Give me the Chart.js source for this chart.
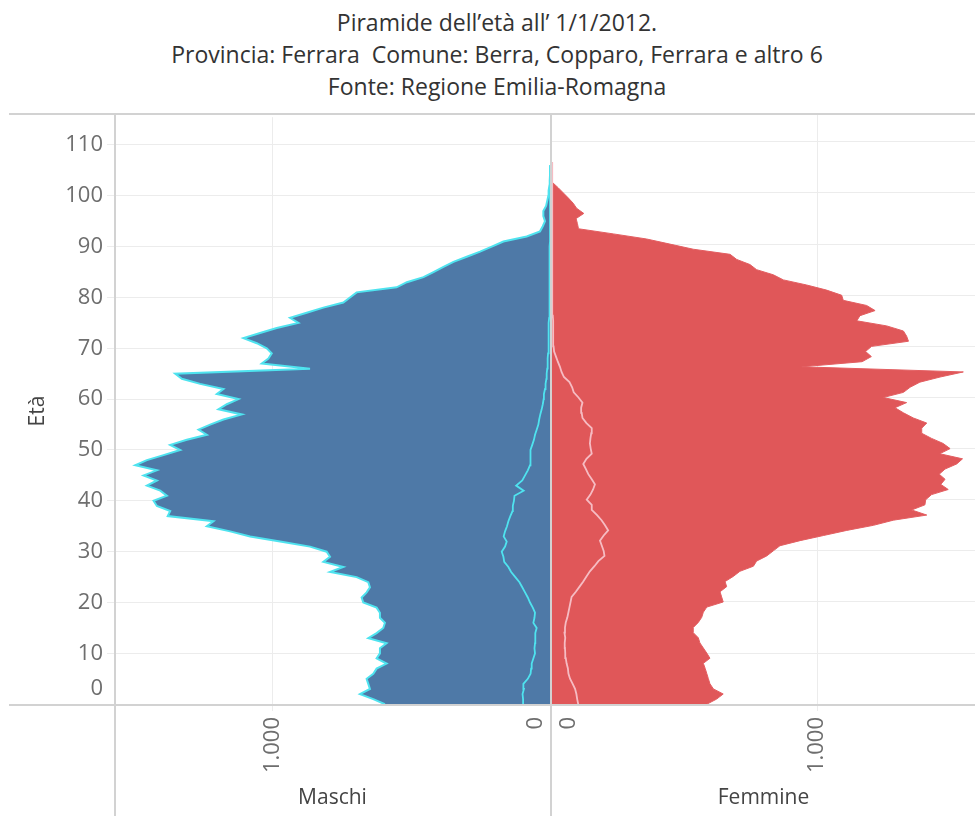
<!DOCTYPE html>
<html lang="it">

<head>
    <meta charset="UTF-8">
    <title>Piramide dell'età</title>
    <script src="https://cdn.jsdelivr.net/npm/chart.js"></script>
    <style>
        body {
            margin: 0;
            background: #fff;
            font-family: 'Open Sans', sans-serif;
        }

        .pagina {
            position: relative;
            width: 975px;
            height: 816px;
            overflow: hidden;
        }

        .titolo {
            position: absolute;
            left: 0;
            top: 6px;
            width: 994px;
            text-align: center;
            color: #333;
            font-size: 23px;
            line-height: 32px;
            white-space: pre;
        }

        .pannello {
            position: absolute;
            top: 100px;
            height: 716px;
        }

        #sx {
            left: 0;
            width: 566px;
        }

        #dx {
            left: 536px;
            width: 439px;
        }

        .linea {
            position: absolute;
            background: #d2d2d2;
        }
    </style>
</head>

<body>
    <div class="pagina">
        <div class="titolo">Piramide dell’età all’ 1/1/2012.
Provincia: Ferrara  Comune: Berra, Copparo, Ferrara e altro 6
Fonte: Regione Emilia-Romagna</div>

        <div class="pannello" id="sx"><canvas id="graficoMaschi"></canvas></div>
        <div class="pannello" id="dx"><canvas id="graficoFemmine"></canvas></div>

        <!-- bordi dei pannelli -->
        <div class="linea" style="left:9px; top:113px; width:966px; height:2px;"></div>
        <div class="linea" style="left:9px; top:704px; width:966px; height:2px;"></div>
        <div class="linea" style="left:114px; top:113px; width:2px; height:703px;"></div>
        <div class="linea" style="left:550px; top:113px; width:2px; height:703px;"></div>
    </div>

    <script>
        // età (asse verticale)
        const eta = [0, 1, 2, 3, 4, 5, 6, 7, 8, 9, 10, 11, 12, 13, 14, 15, 16, 17, 18, 19,
            20, 21, 22, 23, 24, 25, 26, 27, 28, 29, 30, 31, 32, 33, 34, 35, 36, 37, 38, 39,
            40, 41, 42, 43, 44, 45, 46, 47, 48, 49, 50, 51, 52, 53, 54, 55, 56, 57, 58, 59,
            60, 61, 62, 63, 64, 65, 66, 67, 68, 69, 70, 71, 72, 73, 74, 75, 76, 77, 78, 79,
            80, 81, 82, 83, 84, 85, 86, 87, 88, 89, 90, 91, 92, 93, 94, 95, 96, 97, 98, 99,
            100, 101, 102, 103, 104, 105, 106];

        // residenti totali per età
        const maschi = [595, 637, 685, 649, 655, 661, 637, 625, 589, 625, 613, 613, 589, 655, 625, 601, 595, 613, 613, 625,
            673, 679, 661, 649, 655, 697, 793, 745, 817, 793, 805, 865, 973, 1081, 1153, 1237, 1213, 1378, 1369, 1417,
            1429, 1381, 1405, 1453, 1417, 1465, 1417, 1495, 1453, 1393, 1333, 1369, 1309, 1237, 1267, 1225, 1177, 1111, 1195, 1165,
            1123, 1201, 1177, 1261, 1327, 1351, 865, 1039, 1015, 1003, 1021, 1057, 1105, 1045, 985, 907, 937, 877, 817, 745,
            721, 697, 553, 516, 456, 420, 384, 348, 300, 252, 210, 168, 84, 36, 26, 18, 24, 24, 14, 10,
            6, 5, 2, 1, 0, 0, 0];

        const femmine = [584, 621, 646, 609, 596, 590, 584, 578, 571, 596, 584, 571, 558, 552, 533, 533, 552, 565, 571, 584,
            646, 640, 634, 659, 653, 684, 709, 760, 772, 810, 835, 860, 936, 1024, 1112, 1213, 1288, 1414, 1357, 1407,
            1410, 1432, 1495, 1467, 1483, 1461, 1483, 1527, 1549, 1463, 1502, 1476, 1432, 1395, 1395, 1414, 1363, 1326, 1294, 1338,
            1250, 1326, 1351, 1388, 1464, 1552, 942, 1170, 1205, 1183, 1206, 1345, 1338, 1326, 1263, 1150, 1162, 1219, 1187, 1099,
            1093, 1036, 961, 873, 835, 772, 747, 697, 672, 533, 445, 357, 231, 100, 96, 91, 120, 93, 80, 62,
            43, 24, 3, 1, 0, 0, 0];

        // residenti stranieri per età
        const maschiStranieri = [94, 97, 99, 94, 96, 80, 70, 68, 66, 60, 54, 56, 54, 54, 52, 48, 60, 56, 54, 62,
            72, 80, 90, 100, 110, 125, 140, 150, 165, 168, 174, 162, 156, 167, 162, 155, 150, 143, 135, 134,
            130, 128, 95, 122, 100, 90, 80, 72, 71, 70, 70, 64, 58, 54, 48, 42, 39, 35, 30, 26,
            23, 22, 18, 16, 13, 12, 10, 9, 8, 7, 6, 6, 5, 5, 4, 4, 3, 3, 3, 2,
            2, 2, 2, 1, 1, 1, 1, 1, 1, 1, 1, 0, 0, 0, 0, 0, 0, 0, 0, 0,
            0, 0, 0, 0, 0, 0, 0];

        const femmineStranieri = [99, 95, 92, 87, 78, 68, 62, 60, 55, 52, 50, 49, 48, 50, 47, 49, 52, 58, 62, 66,
            70, 74, 90, 104, 118, 130, 143, 160, 175, 198, 195, 188, 181, 195, 212, 200, 187, 170, 150, 150,
            131, 145, 155, 162, 150, 137, 128, 118, 130, 150, 146, 143, 145, 148, 150, 130, 115, 112, 110, 115,
            100, 82, 76, 66, 45, 36, 30, 22, 15, 8, 6, 5, 5, 4, 4, 4, 3, 3, 3, 3,
            2, 2, 2, 2, 2, 1, 1, 1, 1, 1, 1, 0, 0, 0, 0, 0, 0, 0, 0, 0,
            0, 0, 0, 0, 0, 0, 0];

        // etichette degli assi
        const etaTicks = [0, 10, 20, 30, 40, 50, 60, 70, 80, 90, 100, 110];
        const valoreTicks = [0, 1000];
        const valoreLabels = ['0', '1.000'];

        const coloreTick = '#6e6e6e';
        const coloreGriglia = '#ececec';
        const font = '"Open Sans", sans-serif';
        const dimTick = 22;

        function punti(valori) {
            return eta.map((a, i) => ({ x: valori[i], y: a }));
        }

        // le etichette "0" sono spostate verso l'interno del pannello come in Tableau
        const etichetteZero = {
            id: 'etichetteZero',
            afterDraw(chart, args, opts) {
                const ctx = chart.ctx;
                const sx = chart.scales.x;
                const sy = chart.scales.y;
                ctx.save();
                ctx.font = dimTick + 'px ' + font;
                ctx.fillStyle = coloreTick;
                ctx.translate(sx.getPixelForValue(valoreTicks[0]) + opts.spostaX, sx.top + 12);
                ctx.rotate(-Math.PI / 2);
                ctx.textAlign = 'right';
                ctx.textBaseline = 'middle';
                ctx.fillText(valoreLabels[0], 0, 0);
                ctx.restore();

                if (opts.zeroEta) {
                    ctx.save();
                    ctx.font = dimTick + 'px ' + font;
                    ctx.fillStyle = coloreTick;
                    ctx.textAlign = 'right';
                    ctx.textBaseline = 'middle';
                    ctx.fillText(String(etaTicks[0]), sy.right - 12, sy.getPixelForValue(etaTicks[0]) - 16);
                    ctx.restore();
                }
            }
        };

        function opzioni(sinistra) {
            return {
                indexAxis: 'y',
                responsive: true,
                maintainAspectRatio: false,
                animation: false,
                events: [],
                layout: {
                    padding: sinistra ? { left: 8, right: 16, top: 14, bottom: 0 } : { left: 16, right: 0, top: 14, bottom: 0 }
                },
                elements: {
                    point: { radius: 0 },
                    line: { tension: 0 }
                },
                plugins: {
                    legend: { display: false },
                    tooltip: { enabled: false },
                    etichetteZero: { spostaX: sinistra ? -14 : 17, zeroEta: sinistra }
                },
                scales: {
                    x: {
                        type: 'linear',
                        reverse: sinistra,
                        min: 0,
                        max: sinistra ? 1568 : 1596,
                        afterBuildTicks: (s) => {
                            s.ticks = valoreTicks.slice(1).map(v => ({ value: v }));
                        },
                        afterFit: (s) => { s.height = 111; },
                        ticks: {
                            autoSkip: false,
                            minRotation: 90,
                            maxRotation: 90,
                            padding: 6,
                            color: coloreTick,
                            font: { family: font, size: dimTick },
                            callback: (v) => valoreLabels[valoreTicks.indexOf(v)]
                        },
                        grid: { color: coloreGriglia, tickLength: 6 },
                        border: { display: false },
                        title: {
                            display: true,
                            text: sinistra ? 'Maschi' : 'Femmine',
                            color: '#444',
                            font: { family: font, size: 21 },
                            padding: { top: 0, bottom: 5 }
                        }
                    },
                    y: {
                        type: 'linear',
                        min: -0.15,
                        max: 115.45,
                        afterBuildTicks: (s) => {
                            s.ticks = etaTicks.map(v => ({ value: v }));
                        },
                        afterFit: (s) => { s.width = sinistra ? 107 : 0; },
                        ticks: {
                            display: sinistra,
                            padding: 4,
                            color: coloreTick,
                            font: { family: font, size: dimTick },
                            callback: (v) => v === 0 ? '' : String(v)
                        },
                        grid: { color: coloreGriglia, tickLength: 8, drawTicks: sinistra },
                        border: { display: false },
                        title: {
                            display: sinistra,
                            text: 'Età',
                            color: '#444',
                            font: { family: font, size: 21 },
                            padding: { top: 17, bottom: 0 }
                        }
                    }
                }
            };
        }

        new Chart(document.getElementById('graficoMaschi'), {
            type: 'line',
            data: {
                datasets: [
                    {
                        label: 'Stranieri maschi',
                        data: punti(maschiStranieri),
                        borderColor: '#4fe3ef',
                        borderWidth: 1.8,
                        fill: false
                    },
                    {
                        label: 'Maschi',
                        data: punti(maschi),
                        borderColor: '#4fe3ef',
                        backgroundColor: '#4e79a7',
                        borderWidth: 2,
                        fill: 'origin'
                    }
                ]
            },
            options: opzioni(true),
            plugins: [etichetteZero]
        });

        new Chart(document.getElementById('graficoFemmine'), {
            type: 'line',
            data: {
                datasets: [
                    {
                        label: 'Straniere femmine',
                        data: punti(femmineStranieri),
                        borderColor: '#f6bcc3',
                        borderWidth: 1.8,
                        fill: false
                    },
                    {
                        label: 'Femmine',
                        data: punti(femmine),
                        borderColor: '#e35e61',
                        backgroundColor: '#e05759',
                        borderWidth: 1,
                        fill: 'origin'
                    }
                ]
            },
            options: opzioni(false),
            plugins: [etichetteZero]
        });
    </script>
</body>

</html>
